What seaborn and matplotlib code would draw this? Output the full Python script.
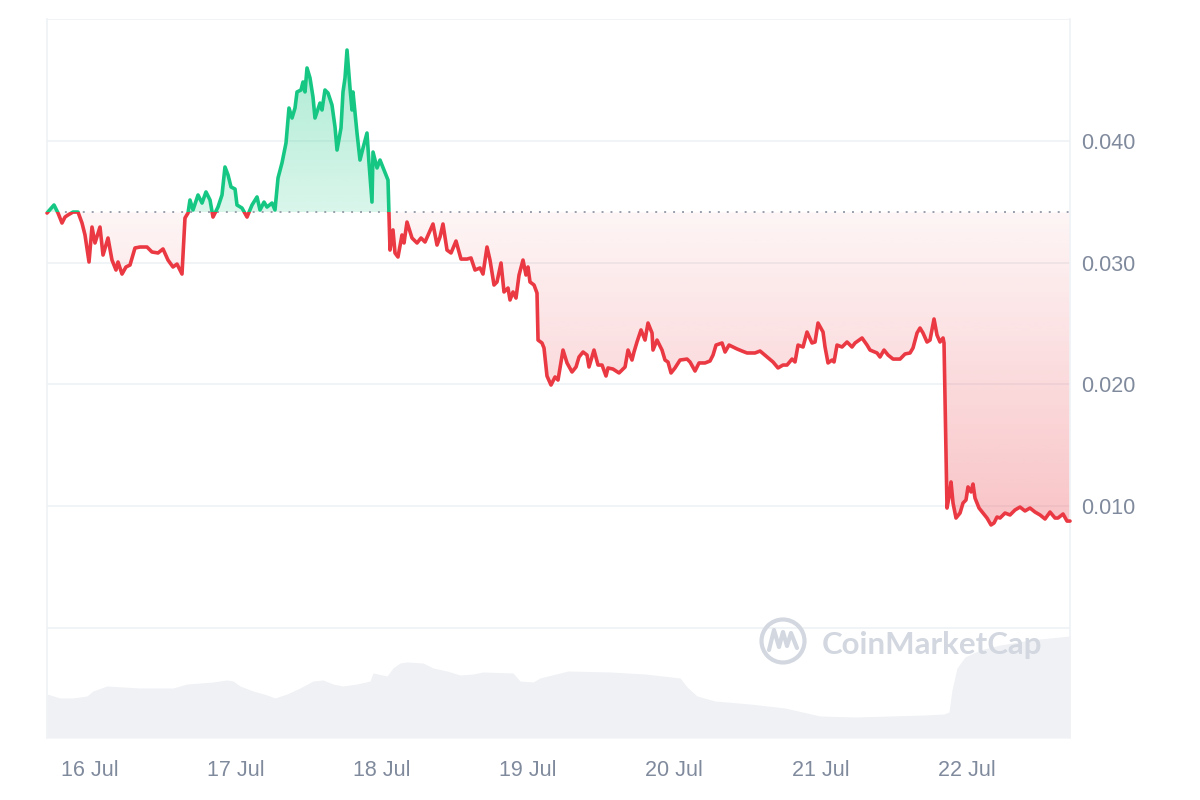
import numpy as np
import pandas as pd
import matplotlib
matplotlib.use("Agg")
import matplotlib.pyplot as plt
import matplotlib.dates as mdates
from matplotlib.path import Path
from matplotlib.patches import Rectangle, Circle
from matplotlib.lines import Line2D
from matplotlib.colors import to_rgb
import seaborn as sns

# ---------------- data ----------------
start_time = "2023-07-15 17:00"
baseline_price = 0.03413

price_hours = [
    0.0, 1.15, 1.81, 2.46, 2.96, 3.45, 4.27, 5.09, 5.75, 6.24,
    6.90, 7.39, 7.88, 8.70, 9.20, 10.02, 10.67, 11.33, 11.66, 12.32,
    12.97, 13.63, 14.45, 15.27, 16.42, 17.24, 18.23, 19.05, 19.87, 20.69,
    21.35, 22.17, 22.66, 23.16, 23.48, 23.98, 24.80, 25.46, 26.11, 26.77,
    27.26, 28.08, 28.74, 29.23, 29.73, 30.22, 30.88, 31.20, 32.02, 32.85,
    33.67, 34.49, 34.98, 35.64, 36.13, 36.95, 37.44, 37.94, 38.59, 39.25,
    39.74, 40.24, 40.73, 41.06, 41.71, 42.04, 42.37, 42.70, 43.19, 43.68,
    44.01, 44.34, 44.83, 45.16, 45.65, 46.15, 46.80, 47.30, 47.63, 48.28,
    48.61, 48.94, 49.27, 49.76, 50.09, 50.25, 50.91, 51.40, 51.90, 52.55,
    52.88, 53.37, 53.54, 54.20, 54.69, 55.35, 56.00, 56.17, 56.33, 56.82,
    57.15, 57.64, 58.30, 58.63, 59.12, 59.94, 60.77, 61.42, 62.08, 63.39,
    64.05, 64.54, 65.03, 65.69, 66.35, 67.17, 67.99, 68.98, 69.63, 70.29,
    71.11, 71.60, 72.26, 72.75, 73.41, 73.90, 74.56, 75.05, 75.71, 76.04,
    76.53, 77.02, 77.52, 78.17, 78.66, 78.99, 79.32, 79.98, 80.47, 80.64,
    81.29, 81.62, 82.11, 82.77, 83.43, 83.92, 84.74, 85.40, 86.22, 86.88,
    87.37, 88.03, 88.68, 89.01, 89.83, 90.49, 91.15, 91.80, 92.13, 92.95,
    93.94, 94.93, 95.42, 96.07, 96.40, 96.89, 97.55, 98.21, 98.70, 99.36,
    99.52, 100.18, 101.00, 101.49, 101.98, 102.48, 103.13, 103.96, 105.11, 105.60,
    106.42, 107.08, 108.06, 108.88, 109.38, 109.87, 110.86, 111.35, 112.01, 113.32,
    114.14, 114.96, 116.27, 117.10, 118.25, 119.23, 120.05, 120.87, 121.53, 122.35,
    122.84, 123.34, 124.16, 124.81, 125.63, 126.13, 126.62, 127.44, 127.77, 128.26,
    128.92, 129.25, 129.74, 130.56, 131.38, 132.20, 132.70, 133.85, 134.67, 135.16,
    136.31, 136.80, 137.46, 138.12, 138.94, 140.09, 140.91, 141.73, 142.22, 142.88,
    143.37, 143.86, 144.52, 145.01, 145.67, 146.16, 146.65, 147.15, 147.31, 147.80,
    148.13, 148.46, 148.79, 149.28, 149.94, 150.43, 150.92, 151.25, 151.75, 152.07,
    152.40, 153.06, 153.72, 154.37, 155.03, 155.52, 156.01, 156.51, 157.33, 158.15,
    158.97, 159.79, 160.61, 161.43, 162.26, 163.08, 163.90, 164.72, 165.54, 166.03,
    166.86, 167.51, 168.00,
]

price_values = [
    0.03407, 0.03473, 0.03407, 0.03325, 0.03374, 0.03391, 0.03415, 0.03415, 0.03325, 0.03227,
    0.03005, 0.03292, 0.03161, 0.03292, 0.03062, 0.03202, 0.03021, 0.02939, 0.03005, 0.02906,
    0.02964, 0.02980, 0.03120, 0.03128, 0.03128, 0.03087, 0.03079, 0.03112, 0.03021, 0.02964,
    0.02988, 0.02906, 0.03366, 0.03407, 0.03514, 0.03432, 0.03555, 0.03489, 0.03580, 0.03514,
    0.03374, 0.03456, 0.03555, 0.03785, 0.03719, 0.03621, 0.03604, 0.03473, 0.03448, 0.03374,
    0.03473, 0.03539, 0.03432, 0.03497, 0.03456, 0.03489, 0.03432, 0.03695, 0.03818, 0.03982,
    0.04269, 0.04187, 0.04269, 0.04401, 0.04417, 0.04483, 0.04401, 0.04598, 0.04516, 0.04360,
    0.04187, 0.04236, 0.04310, 0.04253, 0.04417, 0.04392, 0.04294, 0.04113, 0.03924, 0.04105,
    0.04401, 0.04516, 0.04745, 0.04433, 0.04253, 0.04401, 0.04064, 0.03842, 0.03941, 0.04064,
    0.03818, 0.03497, 0.03908, 0.03777, 0.03842, 0.03760, 0.03678, 0.03391, 0.03103, 0.03268,
    0.03079, 0.03046, 0.03227, 0.03161, 0.03333, 0.03202, 0.03161, 0.03202, 0.03169, 0.03317,
    0.03144, 0.03210, 0.03317, 0.03103, 0.03079, 0.03177, 0.03029, 0.03029, 0.03038, 0.02939,
    0.02956, 0.02906, 0.03128, 0.03021, 0.02816, 0.02841, 0.02997, 0.02759, 0.02791, 0.02693,
    0.02759, 0.02709, 0.02898, 0.03021, 0.02898, 0.02964, 0.02841, 0.02816, 0.02750, 0.02364,
    0.02340, 0.02299, 0.02069, 0.01995, 0.02061, 0.02036, 0.02282, 0.02176, 0.02102, 0.02143,
    0.02225, 0.02266, 0.02241, 0.02143, 0.02282, 0.02159, 0.02159, 0.02069, 0.02135, 0.02126,
    0.02094, 0.02143, 0.02282, 0.02200, 0.02266, 0.02348, 0.02447, 0.02364, 0.02504, 0.02422,
    0.02282, 0.02364, 0.02282, 0.02200, 0.02184, 0.02094, 0.02135, 0.02200, 0.02208, 0.02184,
    0.02110, 0.02176, 0.02176, 0.02192, 0.02241, 0.02323, 0.02340, 0.02266, 0.02323, 0.02291,
    0.02274, 0.02258, 0.02258, 0.02274, 0.02225, 0.02184, 0.02135, 0.02159, 0.02159, 0.02208,
    0.02184, 0.02323, 0.02307, 0.02430, 0.02340, 0.02348, 0.02504, 0.02430, 0.02307, 0.02176,
    0.02200, 0.02184, 0.02323, 0.02307, 0.02348, 0.02307, 0.02340, 0.02381, 0.02323, 0.02282,
    0.02258, 0.02225, 0.02282, 0.02241, 0.02208, 0.02208, 0.02250, 0.02258, 0.02299, 0.02422,
    0.02463, 0.02422, 0.02348, 0.02364, 0.02537, 0.02405, 0.02348, 0.02381, 0.02340, 0.00985,
    0.01076, 0.01199, 0.01026, 0.00903, 0.00944, 0.01026, 0.01051, 0.01158, 0.01117, 0.01182,
    0.01067, 0.00985, 0.00944, 0.00903, 0.00846, 0.00862, 0.00911, 0.00903, 0.00944, 0.00928,
    0.00969, 0.00993, 0.00961, 0.00985, 0.00952, 0.00928, 0.00895, 0.00952, 0.00903, 0.00903,
    0.00936, 0.00878, 0.00878,
]

volume_hours = [
    0.0, 2.13, 4.27, 6.57, 7.55, 9.85, 12.48, 15.27, 18.56, 20.69,
    22.99, 25.13, 27.26, 29.56, 30.55, 31.70, 33.83, 36.13, 37.44, 39.41,
    41.55, 43.68, 45.33, 46.97, 48.61, 50.91, 53.05, 53.54, 55.84, 56.82,
    57.97, 59.12, 61.75, 63.39, 65.69, 67.83, 69.96, 71.60, 76.53, 77.68,
    79.82, 80.96, 84.25, 85.56, 92.46, 98.21, 103.96, 105.11, 106.75, 109.71,
    115.45, 121.20, 126.95, 132.70, 138.44, 144.19, 147.31, 148.13, 148.62, 149.44,
    150.76, 153.22, 156.51, 161.43, 168.00,
]
volume_values = [
    440, 400, 400, 420, 470, 520, 510, 500, 500, 500,
    540, 550, 560, 580, 570, 520, 470, 430, 400, 440,
    500, 570, 580, 540, 520, 540, 570, 650, 620, 700,
    750, 760, 750, 700, 670, 630, 640, 660, 650, 570,
    560, 600, 650, 670, 660, 640, 600, 510, 420, 370,
    340, 300, 220, 210, 220, 230, 240, 260, 480, 700,
    810, 880, 930, 980, 1020,
]

tick_days = ["2023-07-16", "2023-07-17", "2023-07-18", "2023-07-19",
             "2023-07-20", "2023-07-21", "2023-07-22"]
y_ticks = [0.0, 0.01, 0.02, 0.03, 0.04, 0.05]
y_labels = ["", "0.010", "0.020", "0.030", "0.040", ""]

# ---------------- style ----------------
GREEN = "#16c784"
RED = "#ea3943"
TXT = "#808a9d"
GRID = "#eff2f5"
VOL = "#eff1f4"
WATER = "#d2d7e0"

sns.set_theme(style="white")
plt.rcParams["font.family"] = ["Liberation Sans", "DejaVu Sans"]

t0 = pd.Timestamp(start_time)
price_df = pd.DataFrame({
    "time": t0 + pd.to_timedelta(price_hours, unit="h"),
    "price": price_values,
})
vol_df = pd.DataFrame({
    "time": t0 + pd.to_timedelta(volume_hours, unit="h"),
    "volume": volume_values,
})
t_end = price_df["time"].iloc[-1]

W, H = 1200, 800
L, R, TOP, BOT, ZERO = 47, 1070, 19, 738, 628
fig = plt.figure(figsize=(12, 8), dpi=100)
fig.patch.set_facecolor("white")

# volume axes (bottom strip)
axv = fig.add_axes([L / W, 1 - BOT / H, (R - L) / W, (BOT - ZERO) / H])
axv.fill_between(vol_df["time"], 0, vol_df["volume"], color=VOL, lw=0)
axv.set_ylim(0, 1100)
axv.set_xlim(t0, t_end)
axv.axis("off")

# price axes
ax = fig.add_axes([L / W, 1 - BOT / H, (R - L) / W, (BOT - TOP) / H])
ax.patch.set_alpha(0)
ppu = (ZERO - TOP) / 0.05
ax.set_ylim(-(BOT - ZERO) / ppu, 0.05)
ax.set_xlim(t0, t_end)

x0 = mdates.date2num(t0)
x1 = mdates.date2num(t_end)
p = np.array(price_values)

# gradient fills
def gradient_fill(mask, color, ylo, yhi, a_lo, a_hi):
    coll = ax.fill_between(price_df["time"], price_df["price"], baseline_price,
                           where=mask, interpolate=True,
                           facecolor="none", edgecolor="none")
    path = Path.make_compound_path(*coll.get_paths())
    g = np.linspace(0, 1, 256).reshape(-1, 1)
    rgba = np.zeros((256, 1, 4))
    rgba[..., :3] = to_rgb(color)
    rgba[..., 3] = (a_lo + (a_hi - a_lo) * g)
    im = ax.imshow(rgba, extent=[x0, x1, ylo, yhi], aspect="auto",
                   origin="lower", zorder=1, interpolation="bilinear")
    im.set_clip_path(path, transform=ax.transData)

gradient_fill(p >= baseline_price, GREEN, baseline_price, p.max(), 0.16, 0.36)
gradient_fill(p <= baseline_price, RED, p.min(), baseline_price, 0.30, 0.05)

# baseline (dotted)
ax.axhline(baseline_price, color="#9aa0ab", lw=1.4, ls=(0, (1, 3.6)), zorder=2)

# price line, green above / red below baseline
sns.lineplot(data=price_df, x="time", y="price", ax=ax, color=GREEN, lw=2.6,
             estimator=None, sort=False, zorder=4)
line_g = ax.lines[-1]
sns.lineplot(data=price_df, x="time", y="price", ax=ax, color=RED, lw=2.6,
             estimator=None, sort=False, zorder=4)
line_r = ax.lines[-1]
for ln in (line_g, line_r):
    ln.set_solid_joinstyle("round")
    ln.set_solid_capstyle("round")
clip_up = Rectangle((x0 - 1, baseline_price), (x1 - x0) + 2, 1.0, transform=ax.transData)
clip_dn = Rectangle((x0 - 1, baseline_price - 1.0), (x1 - x0) + 2, 1.0, transform=ax.transData)
line_g.set_clip_path(clip_up)
line_r.set_clip_path(clip_dn)

ax.set_ylim(-(BOT - ZERO) / ppu, 0.05)
ax.set_xlim(t0, t_end)

# axes cosmetics
ax.set_xlabel("")
ax.set_ylabel("")
ax.set_yticks(y_ticks)
ax.set_yticklabels(y_labels)
ax.yaxis.tick_right()
ax.yaxis.grid(True, color=GRID, lw=1.2)
ax.set_axisbelow(True)
ax.set_xticks(pd.to_datetime(tick_days))
ax.xaxis.set_major_formatter(mdates.DateFormatter("%d %b"))
ax.tick_params(axis="x", length=0, pad=16, labelsize=15.5, labelcolor=TXT)
ax.tick_params(axis="y", length=0, pad=8, labelsize=15.5, labelcolor=TXT)
for s in ("top", "bottom"):
    ax.spines[s].set_visible(False)
for s in ("left", "right"):
    ax.spines[s].set_color(GRID)
    ax.spines[s].set_linewidth(1.2)

# watermark
fig.text(822 / W, 1 - 654 / H, "CoinMarketCap", fontsize=22.5, fontweight="bold",
         color=WATER, ha="left", va="baseline", family=["Lato", "DejaVu Sans"])
fig.add_artist(Circle((7.83, 1.59), 0.215, transform=fig.dpi_scale_trans,
                      fill=False, ec=WATER, lw=3))
fig.add_artist(Line2D([7.69, 7.74, 7.79, 7.83, 7.87, 7.91, 7.97],
                      [1.50, 1.70, 1.53, 1.68, 1.54, 1.67, 1.52],
                      transform=fig.dpi_scale_trans, color=WATER, lw=3,
                      solid_joinstyle="round", solid_capstyle="round"))

fig.savefig("out.png", dpi=100, facecolor="white")
